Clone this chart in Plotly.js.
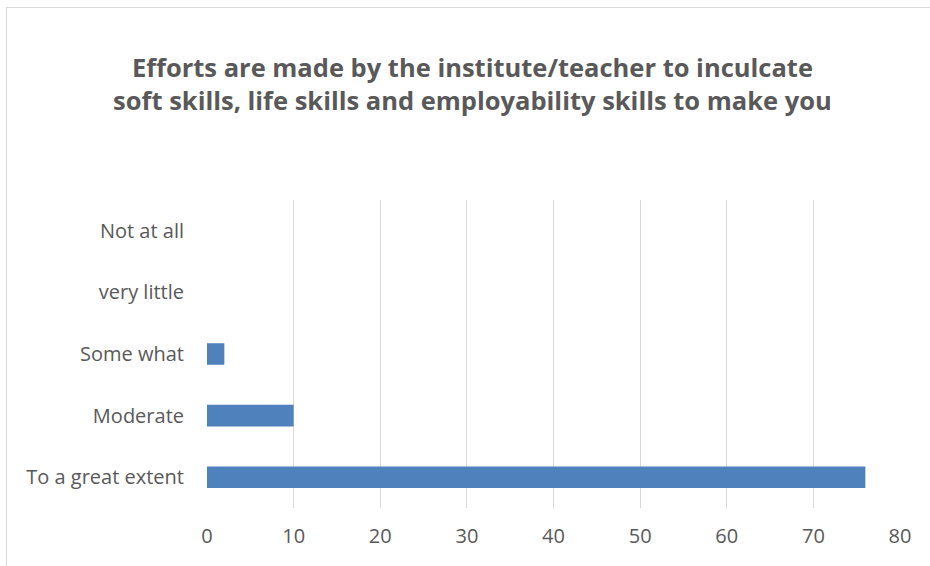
<!DOCTYPE html>
<html>
<head>
<meta charset="utf-8">
<script src="https://cdn.plot.ly/plotly-3.0.1.min.js"></script>
<style>
html, body { margin: 0; padding: 0; background: #fff; overflow: hidden; }
#frame { position: absolute; left: 6px; top: 7px; width: 1000px; height: 1000px; border: 1px solid #d9d9d9; box-sizing: border-box; }
#chart { position: absolute; left: 0; top: 0; width: 930px; height: 566px; }
</style>
</head>
<body>
<div id="frame"></div>
<div id="chart"></div>
<script>
const categories = ["To a great extent", "Moderate", "Some what", "very little", "Not at all"];
const values = [76, 10, 2, 0, 0];
const xTicks = [0, 10, 20, 30, 40, 50, 60, 70, 80];
const titleText = "Efforts are made by the institute/teacher to inculcate<br>soft skills, life skills and employability skills to make you";

const trace = {
  type: "bar",
  orientation: "h",
  y: categories,
  x: values,
  width: 0.35,
  marker: { color: "#4f81bd", line: { width: 0 } },
  hoverinfo: "x+y"
};

const layout = {
  width: 930,
  height: 566,
  paper_bgcolor: "rgba(0,0,0,0)",
  plot_bgcolor: "rgba(0,0,0,0)",
  margin: { l: 207, r: 30, t: 200, b: 58 },
  showlegend: false,
  title: {
    text: titleText,
    font: { family: "Open Sans, sans-serif", size: 25.5, color: "#595959", weight: "bold" },
    x: 0.508,
    xanchor: "center",
    y: 1 - 77 / 566,
    yanchor: "middle"
  },
  xaxis: {
    range: [0, 80],
    tickvals: xTicks,
    ticktext: xTicks.map(String),
    showgrid: true,
    gridcolor: "#d9d9d9",
    gridwidth: 1,
    zeroline: false,
    showline: false,
    ticks: "",
    tickfont: { family: "Open Sans, sans-serif", size: 20, color: "#595959" },
    ticklabelstandoff: 14,
    fixedrange: true
  },
  yaxis: {
    type: "category",
    categoryorder: "array",
    categoryarray: categories,
    showgrid: false,
    zeroline: false,
    showline: false,
    ticks: "",
    tickfont: { family: "Open Sans, sans-serif", size: 20, color: "#595959" },
    ticklabelstandoff: 22,
    fixedrange: true
  }
};

Plotly.newPlot("chart", [trace], layout, { displayModeBar: false, staticPlot: true });
</script>
</body>
</html>
